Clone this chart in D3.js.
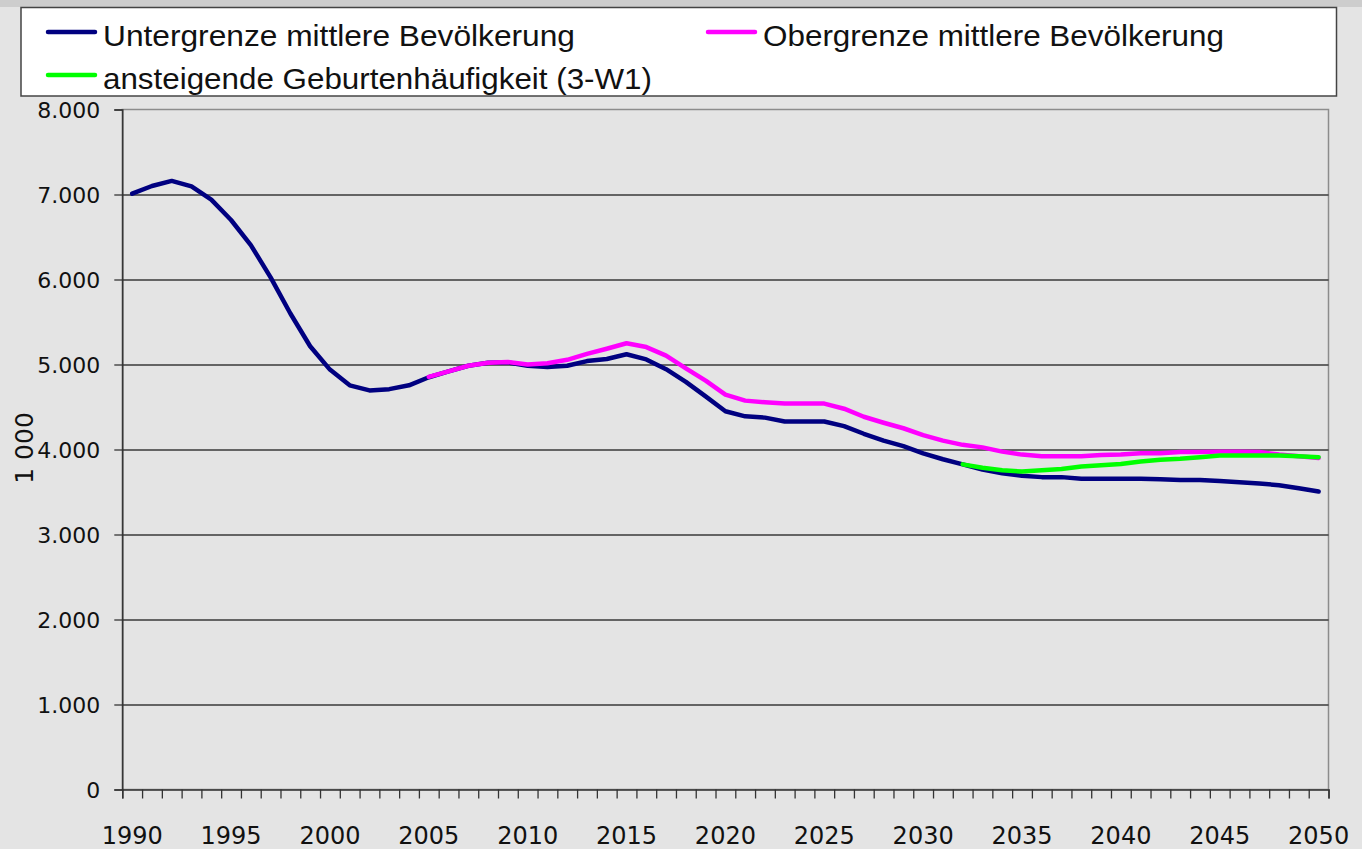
<!DOCTYPE html>
<html>
<head>
<meta charset="utf-8">
<script src="https://cdn.jsdelivr.net/npm/d3@7"></script>
<style>
  html, body { margin: 0; padding: 0; background: #e4e4e4; }
  svg { display: block; }
</style>
</head>
<body>
<svg id="chart" width="1362" height="849"></svg>
<script>
// ---- data ----
const years = [1990,1991,1992,1993,1994,1995,1996,1997,1998,1999,
  2000,2001,2002,2003,2004,2005,2006,2007,2008,2009,
  2010,2011,2012,2013,2014,2015,2016,2017,2018,2019,
  2020,2021,2022,2023,2024,2025,2026,2027,2028,2029,
  2030,2031,2032,2033,2034,2035,2036,2037,2038,2039,
  2040,2041,2042,2043,2044,2045,2046,2047,2048,2049,2050];

const untergrenze = [7010,7100,7160,7095,6940,6700,6405,6025,5600,5215,
  4940,4755,4695,4710,4755,4850,4920,4985,5020,5025,
  4985,4970,4985,5040,5065,5120,5060,4945,4795,4625,
  4450,4390,4375,4330,4330,4330,4275,4185,4105,4040,
  3955,3885,3825,3765,3720,3690,3675,3675,3655,3655,
  3655,3655,3650,3640,3640,3630,3615,3600,3580,3545,3505];

const obergrenze = [null,null,null,null,null,null,null,null,null,null,
  null,null,null,null,null,4855,4920,4985,5020,5030,
  5000,5015,5055,5125,5185,5250,5205,5105,4955,4810,
  4645,4575,4555,4540,4540,4540,4480,4385,4315,4250,
  4170,4105,4055,4025,3975,3940,3920,3920,3920,3935,
  3940,3955,3955,3970,3970,3975,3975,3970,3940,3920,3900];

const geburten = [null,null,null,null,null,null,null,null,null,null,
  null,null,null,null,null,null,null,null,null,null,
  null,null,null,null,null,null,null,null,null,null,
  null,null,null,null,null,null,null,null,null,null,
  null,null,3825,3785,3755,3740,3755,3770,3800,3815,
  3830,3860,3880,3890,3910,3930,3930,3930,3930,3920,3910];

const seriesNames = ["Untergrenze mittlere Bevölkerung", "Obergrenze mittlere Bevölkerung", "ansteigende Geburtenhäufigkeit (3-W1)"];
const seriesColors = ["#000080", "#ff00ff", "#00ff00"];
const yTicks = [0,1000,2000,3000,4000,5000,6000,7000,8000];
const xLabelYears = [1990,1995,2000,2005,2010,2015,2020,2025,2030,2035,2040,2045,2050];
const yAxisTitle = "1 000";

// ---- layout ----
const svg = d3.select("#chart");
const L = 122.3, R = 1328.5, T = 109.5, B = 789.5;

svg.append("rect").attr("x",0).attr("y",0).attr("width",1362).attr("height",849).attr("fill","#e4e4e4");
svg.append("rect").attr("x",0).attr("y",0).attr("width",1362).attr("height",7).attr("fill","#cdcdcd");

const x = d3.scaleBand().domain(years).range([L, R]).padding(0);
const xc = d => x(d) + x.bandwidth()/2;
const xEdge = d3.scaleLinear().domain([1989.5, 2050.5]).range([L, R]);
const y = d3.scaleLinear().domain([0, 8000]).range([B, T]);

const loc = d3.formatLocale({decimal: ",", thousands: ".", grouping: [3], currency: ["", " €"]});
const fmt = loc.format(",");

// plot border (grey)
svg.append("rect").attr("x", L).attr("y", T).attr("width", R - L).attr("height", B - T)
  .attr("fill", "#e4e4e4").attr("stroke", "#8c8c8c").attr("stroke-width", 1.5);

// gridlines
const grid = svg.append("g").attr("transform", `translate(${L},0)`)
  .call(d3.axisLeft(y).tickValues(yTicks.filter(v => v > 0 && v < 8000)).tickSize(-(R - L)).tickFormat(""));
grid.select(".domain").remove();
grid.selectAll(".tick line").attr("stroke", "#3a3a3a").attr("stroke-width", 1.3);

// y axis
const yAx = svg.append("g").attr("transform", `translate(${L},0)`)
  .call(d3.axisLeft(y).tickValues(yTicks).tickSize(8).tickPadding(14).tickFormat(fmt));
yAx.select(".domain").attr("stroke", "#333").attr("stroke-width", 1.5);
yAx.selectAll(".tick line").attr("stroke", "#333").attr("stroke-width", 1.3);
yAx.selectAll(".tick text").attr("font-family", "DejaVu Sans").attr("font-size", 22).attr("fill", "#111").attr("dy", "0.36em");

// x axis ticks at category boundaries
const xTickAx = svg.append("g").attr("transform", `translate(0,${B})`)
  .call(d3.axisBottom(xEdge).tickValues(d3.range(1989.5, 2051, 1)).tickSize(9).tickFormat(""));
xTickAx.select(".domain").attr("stroke", "#333").attr("stroke-width", 1.5);
xTickAx.selectAll(".tick line").attr("stroke", "#333").attr("stroke-width", 1.3);

// x labels
const xLab = svg.append("g").attr("transform", `translate(0,${B})`)
  .call(d3.axisBottom(x).tickValues(xLabelYears).tickSize(0).tickPadding(0));
xLab.select(".domain").remove();
xLab.selectAll(".tick text").attr("font-family", "DejaVu Sans").attr("font-size", 24)
  .attr("fill", "#111").attr("y", 54).attr("dy", 0);

// y title
svg.append("text").attr("transform", `translate(33,448) rotate(-90)`)
  .attr("text-anchor", "middle").attr("font-family", "DejaVu Sans").attr("font-size", 25)
  .attr("fill", "#111").text(yAxisTitle);

// lines
const allSeries = [untergrenze, obergrenze, geburten];
const line = d3.line().defined(d => d.v !== null).x(d => xc(d.year)).y(d => y(d.v));
allSeries.forEach((vals, i) => {
  svg.append("path")
    .datum(years.map((yr, k) => ({year: yr, v: vals[k]})))
    .attr("fill", "none").attr("stroke", seriesColors[i]).attr("stroke-width", 4.5)
    .attr("stroke-linejoin", "round").attr("stroke-linecap", "round")
    .attr("d", line);
});

// legend
const lg = svg.append("g");
lg.append("rect").attr("x", 21).attr("y", 7.5).attr("width", 1315.5).attr("height", 88.5)
  .attr("fill", "#fff").attr("stroke", "#444").attr("stroke-width", 1.5);
const legendItems = [
  {lx: 48, ly: 32, tx: 103, tw: 472},
  {lx: 708, ly: 32, tx: 763, tw: 461},
  {lx: 48, ly: 75, tx: 103, tw: 549}
];
legendItems.forEach((it, i) => {
  lg.append("line").attr("x1", it.lx).attr("x2", it.lx + 47).attr("y1", it.ly).attr("y2", it.ly)
    .attr("stroke", seriesColors[i]).attr("stroke-width", 4.5).attr("stroke-linecap", "round");
  lg.append("text").attr("x", it.tx).attr("y", it.ly + 14)
    .attr("font-family", "Liberation Sans").attr("font-size", 30).attr("fill", "#111")
    .attr("textLength", it.tw).attr("lengthAdjust", "spacingAndGlyphs")
    .text(seriesNames[i]);
});
</script>
</body>
</html>
